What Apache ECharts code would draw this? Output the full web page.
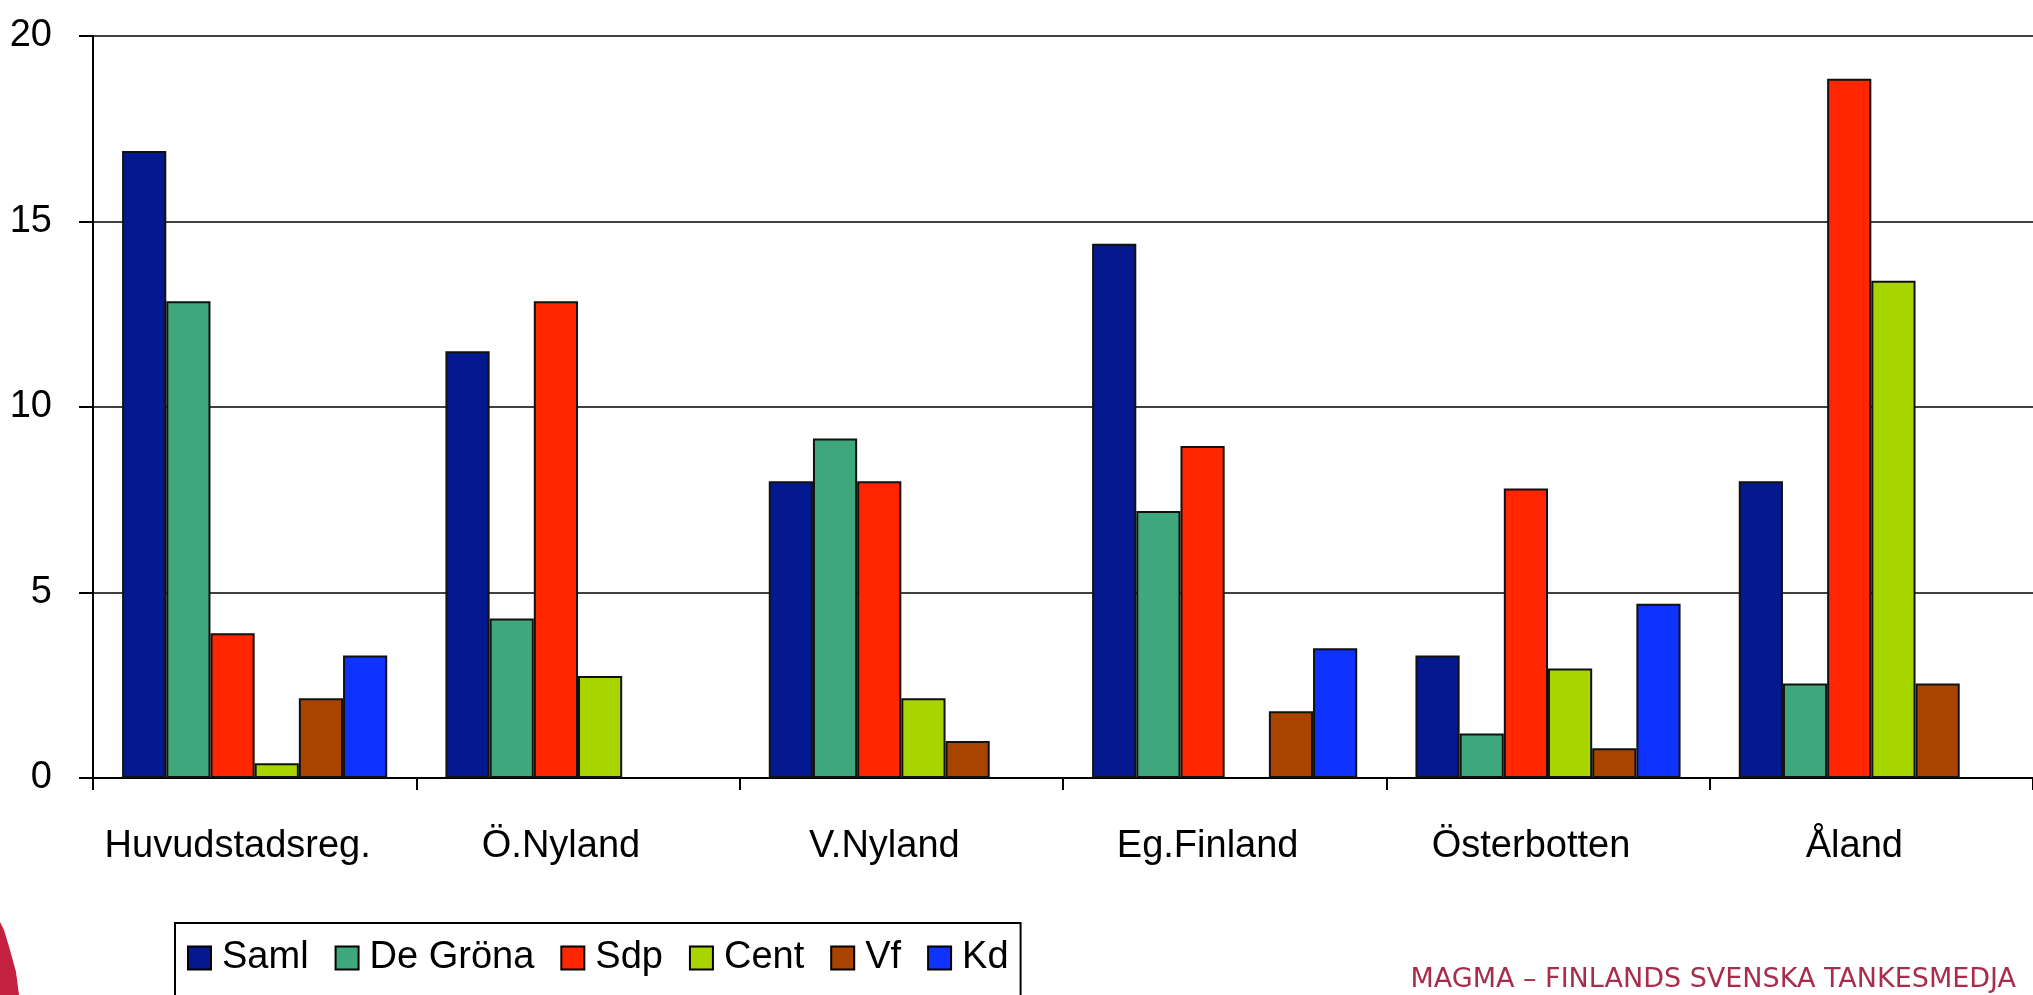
<!DOCTYPE html>
<html>
<head>
<meta charset="utf-8">
<script src="https://cdn.jsdelivr.net/npm/echarts@6/dist/echarts.min.js"></script>
<style>
  html, body { margin: 0; padding: 0; background: #fff; }
  #chart { width: 2033px; height: 995px; }
</style>
</head>
<body>
<div id="chart"></div>
<script>
var regions = ['Huvudstadsreg.', 'Ö.Nyland', 'V.Nyland', 'Eg.Finland', 'Österbotten', 'Åland'];
var parties = ['Saml', 'De Gröna', 'Sdp', 'Cent', 'Vf', 'Kd'];
var colors = ['#041990', '#3fa77c', '#ff2600', '#a8d400', '#a84400', '#0f33ff'];

var saml  = [16.9, 11.5, 8.0, 14.4, 3.3, 8.0];
var grona = [12.85, 4.3, 9.15, 7.2, 1.2, 2.55];
var sdp   = [3.9, 12.85, 8.0, 8.95, 7.8, 18.85];
var cent  = [0.4, 2.75, 2.15, '-', 2.95, 13.4];
var vf    = [2.15, '-', 1.0, 1.8, 0.8, 2.55];
var kd    = [3.3, '-', '-', 3.5, 4.7, '-'];

var yTicks = { min: 0, max: 20, step: 5 };

var font = '"Liberation Sans", Arial, sans-serif';

var chart = echarts.init(document.getElementById('chart'));

var values = [saml, grona, sdp, cent, vf, kd];
var series = [];
for (var i = 0; i < parties.length; i++) {
    series.push({
        name: parties[i],
        type: 'bar',
        data: values[i],
        barGap: '0%',
        barCategoryGap: '18%',
        itemStyle: { color: colors[i], borderColor: '#111', borderWidth: 2 },
        emphasis: { disabled: true }
    });
}

var option = {
    backgroundColor: '#fff',
    animation: false,
    color: colors,
    grid: { left: 93, top: 36, bottom: 217, width: 1954 },
    legend: {
        data: parties,
        left: 175,
        top: 923,
        orient: 'horizontal',
        padding: [16, 12, 40, 12],
        borderColor: '#000',
        borderWidth: 2,
        itemWidth: 23,
        itemHeight: 23,
        itemGap: 26,
        icon: 'rect',
        itemStyle: { borderColor: '#000', borderWidth: 2 },
        textStyle: { fontFamily: font, fontSize: 38, color: '#000', padding: [0, 0, 0, 6] }
    },
    xAxis: {
        type: 'category',
        data: regions,
        axisLine: { lineStyle: { color: '#000', width: 2 } },
        axisTick: { show: true, interval: 0, length: 12, lineStyle: { color: '#000', width: 2 } },
        axisLabel: {
            interval: 0,
            fontFamily: font, fontSize: 38, color: '#000', margin: 50,
            padding: [0, 34, 0, 0]
        }
    },
    yAxis: {
        type: 'value',
        min: yTicks.min,
        max: yTicks.max,
        interval: yTicks.step,
        axisLine: { show: true, lineStyle: { color: '#000', width: 2 } },
        axisTick: { show: true, length: 14, lineStyle: { color: '#000', width: 2 } },
        splitLine: { lineStyle: { color: '#000', width: 1.5 } },
        axisLabel: { fontFamily: font, fontSize: 38, color: '#000', margin: 41, padding: [0, 0, 6, 0] }
    },
    graphic: [
        {
            type: 'polygon',
            shape: { points: [[0, 922], [4, 930], [10, 950], [16, 972], [19, 995], [0, 995]] },
            style: { fill: '#c4203f' }
        },
        {
            type: 'text',
            right: 17,
            top: 966,
            style: {
                text: 'MAGMA – FINLANDS SVENSKA TANKESMEDJA',
                fontFamily: '"DejaVu Sans", sans-serif',
                fontSize: 27,
                fill: '#a82c4c'
            }
        }
    ],
    series: series
};

chart.setOption(option);
</script>
</body>
</html>
